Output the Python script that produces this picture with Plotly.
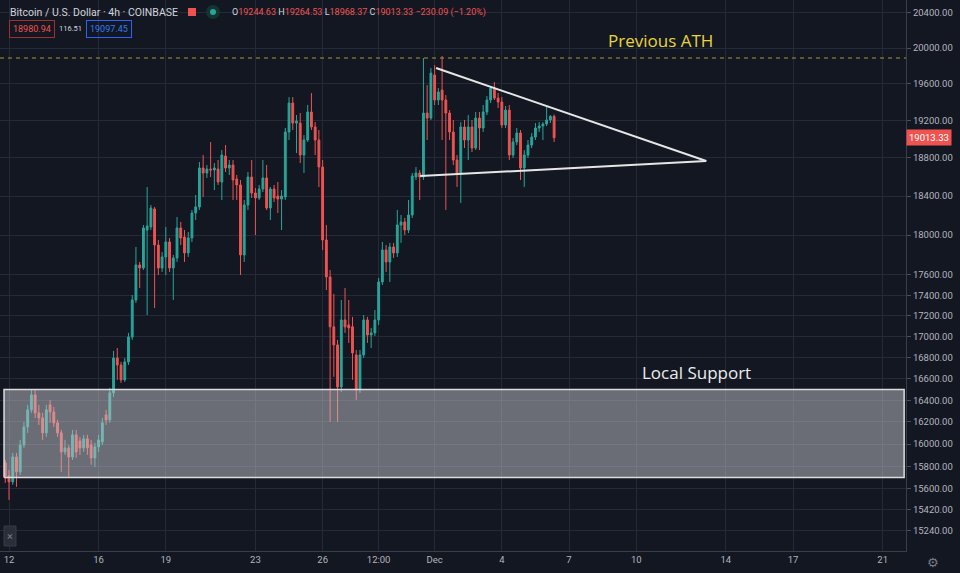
import pandas as pd
import plotly.graph_objects as go
import math

# ---------------- data (BTC/USD 4h, Coinbase) ----------------
start_time = "2020-11-11 20:00"
opens = [15831, 15715, 15662, 15884, 15751, 15992, 16155, 16311, 16449, 16283,
         16237, 16101, 16357, 16292, 16192, 16101, 15929, 15965, 15884, 16083,
         16028, 15965, 16047, 15992, 15875, 15974, 16019, 16265, 16219, 16468,
         16795, 16729, 16589, 16758, 16995, 17353, 17699, 17669, 18051, 18082,
         18266, 17899, 17669, 17779, 17930, 17669, 17769, 18072, 17980, 17819,
         17970, 18225, 18287, 18693, 18640, 18682, 18672, 18682, 18546, 18819,
         18693, 18724, 18577, 18515, 17799, 18307, 18598, 18431, 18380, 18473,
         18588, 18276, 18473, 18400, 18369, 18390, 19076, 19390, 19172, 19172,
         18830, 18990, 19292, 19130, 18990, 18703, 17950, 17580, 17092, 16919,
         16523, 17159, 17111, 17092, 16824, 16495, 16824, 17159, 17014, 17034,
         17159, 17530, 17849, 17729, 17879, 17819, 18102, 18133, 18051, 18204,
         18598, 18640, 18598, 19281, 19226, 19698, 19423, 19532, 19423, 19281,
         19076, 18777, 18640, 19130, 18990, 19130, 18904, 19226, 19119, 19292,
         19423, 19554, 19444, 19401, 19151, 19313, 18830, 18969, 19065, 18693,
         18830, 18936, 19022, 19119, 19140, 19162, 19205, 19244.63]
highs = [15858, 15769, 15920, 15920, 16037, 16201, 16357, 16495, 16495, 16357,
         16283, 16357, 16403, 16338, 16219, 16128, 16037, 15992, 16128, 16128,
         16065, 16083, 16083, 16037, 16010, 16083, 16237, 16311, 16514, 16862,
         16890, 16758, 16795, 17034, 17402, 17879, 17729, 18102, 18494, 18307,
         18287, 17950, 17829, 18082, 17970, 17799, 18184, 18133, 18051, 18030,
         18256, 18411, 18756, 18830, 18724, 18969, 18745, 18777, 18883, 18936,
         18777, 18777, 18619, 18567, 18359, 18651, 18777, 18483, 18515, 18777,
         18724, 18494, 18515, 18546, 18462, 19119, 19455, 19455, 19259, 19281,
         19043, 19368, 19499, 19183, 19097, 18777, 18102, 17649, 17412, 16967,
         17353, 17471, 17353, 17188, 16871, 16871, 17207, 17188, 17082, 17256,
         17570, 17930, 17899, 17920, 17920, 18256, 18204, 18174, 18359, 18640,
         18703, 18672, 19888, 19587, 19776, 19809, 19554, 19910, 19477, 19313,
         19205, 18830, 19183, 19205, 19259, 19205, 19292, 19292, 19368, 19466,
         19576, 19620, 19499, 19455, 19357, 19368, 19011, 19119, 19097, 18883,
         18990, 19065, 19172, 19183, 19183, 19346, 19259, 19264.53]
lows = [15653, 15504, 15636, 15618, 15724, 15965, 16101, 16283, 16237, 16173,
        16037, 16065, 16192, 16155, 16065, 15751, 15902, 15707, 15858, 15875,
        15902, 15929, 15902, 15813, 15795, 15929, 15992, 16173, 16192, 16431,
        16589, 16561, 16570, 16729, 16967, 17324, 17471, 17649, 17207, 18051,
        17275, 17599, 17629, 17599, 17629, 17353, 17729, 17899, 17729, 17779,
        17930, 18153, 18256, 18390, 18588, 18598, 18462, 18515, 18359, 18651,
        18619, 18359, 18359, 17599, 17729, 18256, 18380, 18000, 18359, 18441,
        18256, 18153, 18338, 18225, 18051, 18359, 18990, 19097, 18851, 18745,
        18640, 18969, 19097, 18830, 18494, 17849, 17451, 16201, 16617, 16201,
        16477, 17034, 16938, 16589, 16403, 16468, 16795, 16938, 16890, 17005,
        17111, 17500, 17629, 17530, 17769, 17779, 17920, 18000, 18020, 18174,
        18567, 18359, 18567, 18990, 19205, 19368, 19368, 18990, 18256, 18990,
        18724, 18494, 18328, 18904, 18777, 18862, 18883, 18883, 19076, 19259,
        19390, 19423, 19335, 19119, 19119, 18777, 18798, 18936, 18567, 18494,
        18798, 18904, 18990, 19076, 18990, 19140, 19172, 18968.37]
closes = [15715, 15662, 15884, 15751, 15992, 16155, 16311, 16449, 16283, 16237,
          16101, 16311, 16292, 16192, 16101, 15929, 15965, 15884, 16083, 15929,
          15965, 16047, 15965, 15875, 15974, 16037, 16192, 16219, 16468, 16795,
          16729, 16589, 16758, 16995, 17353, 17699, 17669, 18072, 18092, 18276,
          17899, 17669, 17779, 17930, 17669, 17769, 18072, 17970, 17819, 17970,
          18225, 18287, 18693, 18640, 18682, 18672, 18693, 18546, 18830, 18693,
          18724, 18567, 18515, 17799, 18307, 18598, 18431, 18380, 18473, 18588,
          18276, 18473, 18380, 18369, 18400, 19076, 19390, 19172, 19194, 18830,
          18990, 19292, 19130, 18990, 18703, 17950, 17580, 17092, 16919, 16523,
          17159, 17092, 17082, 16843, 16495, 16824, 17159, 17014, 17034, 17159,
          17530, 17849, 17729, 17879, 17819, 18102, 18133, 18051, 18204, 18609,
          18640, 18598, 19281, 19226, 19720, 19423, 19510, 19423, 19281, 19076,
          18777, 18640, 19130, 18990, 19130, 18904, 19226, 19119, 19292, 19423,
          19554, 19444, 19401, 19151, 19313, 18830, 18969, 19065, 18693, 18830,
          18936, 19022, 19119, 19140, 19162, 19205, 19244.63, 19013.33]

# annotation levels / drawings (prices and times)
ath_price = 19888
ath_span = ["2020-11-11 14:21", "2020-12-22 01:00"]
support_low, support_high = 15700, 16500
support_span = ["2020-11-11 18:40", "2020-12-21 23:00"]
tri_upper = (["2020-12-01 01:30", "2020-12-13 03:00"], [19776, 18766])
tri_lower = (["2020-11-30 08:30", "2020-12-13 03:00"], [18609, 18766])
last_price = 19013.33

x_tick_vals = ["2020-11-12", "2020-11-16", "2020-11-19", "2020-11-23", "2020-11-26",
               "2020-11-28 12:00", "2020-12-01", "2020-12-04", "2020-12-07",
               "2020-12-10", "2020-12-14", "2020-12-17", "2020-12-21"]
x_tick_text = ["12", "16", "19", "23", "26", "12:00", "Dec", "4", "7", "10", "14", "17", "21"]
y_tick_vals = [15240, 15420, 15600, 15800, 16000, 16200, 16400, 16600, 16800, 17000,
               17200, 17400, 17600, 18000, 18400, 18800, 19200, 19600, 20000, 20400]

times = pd.date_range(start_time, periods=len(closes), freq="4h")

# ---------------- styling ----------------
BG = "#131722"
GRID = "#262a36"
TXT = "#b2b5be"
UP = "#26a69a"
DN = "#ef5350"
W, H = 960, 573
ML, MR, MT, MB = 0, 54, 0, 22
PW, PH = W - ML - MR, H - MT - MB


def px(xp):
    return xp / PW


def py(yp):
    return 1 - yp / PH


fig = go.Figure()
fig.add_trace(go.Candlestick(
    x=times, open=opens, high=highs, low=lows, close=closes,
    increasing=dict(line=dict(color=UP, width=1), fillcolor=UP),
    decreasing=dict(line=dict(color=DN, width=1), fillcolor=DN),
    whiskerwidth=0, showlegend=False, hoverinfo="skip",
))

# local support zone (drawn above candles)
fig.add_trace(go.Scatter(
    x=[support_span[0], support_span[1], support_span[1], support_span[0], support_span[0]],
    y=[support_low, support_low, support_high, support_high, support_low],
    mode="lines", fill="toself", fillcolor="rgba(200,200,206,0.49)",
    line=dict(color="#dcdcdc", width=1.5), showlegend=False, hoverinfo="skip"))

# previous ATH level
fig.add_trace(go.Scatter(x=ath_span, y=[ath_price, ath_price], mode="lines",
                         line=dict(color="#a8992c", width=1, dash="4px,4px"),
                         showlegend=False, hoverinfo="skip"))

# triangle
fig.add_trace(go.Scatter(x=tri_upper[0], y=tri_upper[1], mode="lines",
                         line=dict(color="#e6e6e6", width=2), showlegend=False, hoverinfo="skip"))
fig.add_trace(go.Scatter(x=tri_lower[0], y=tri_lower[1], mode="lines",
                         line=dict(color="#e6e6e6", width=2), showlegend=False, hoverinfo="skip"))

shapes = [
    # header icons
    dict(type="rect", xref="paper", yref="paper", x0=px(188), x1=px(196), y0=py(16), y1=py(8),
         fillcolor="#ef5350", line=dict(width=0)),
    dict(type="circle", xref="paper", yref="paper", x0=px(206), x1=px(220), y0=py(19), y1=py(5),
         fillcolor="#14352f", line=dict(width=0)),
    dict(type="circle", xref="paper", yref="paper", x0=px(210), x1=px(216), y0=py(15), y1=py(9),
         fillcolor="#26a69a", line=dict(width=0)),
    # bottom-left small button
    dict(type="rect", xref="paper", yref="paper", x0=px(4), x1=px(16), y0=py(546), y1=py(526),
         fillcolor="#2a2e39", line=dict(color="#363a45", width=1)),
]


def note(text, xp, yp, xanchor="center", **kw):
    return dict(text=text, xref="paper", yref="paper", x=px(xp), y=py(yp),
                xanchor=xanchor, yanchor="middle", showarrow=False, **kw)


annotations = [
    note("Previous ATH", 660, 40, font=dict(family="Open Sans", size=17, color="#e7d53b")),
    note("Local Support", 696, 372, font=dict(family="Open Sans", size=17, color="#ececec")),
    note("Bitcoin / U.S. Dollar · 4h · COINBASE", 8, 12, xanchor="left",
         font=dict(family="Roboto", size=10.5, color="#d1d4dc")),
    note(("O<span style='color:#ef5350'>19244.63</span> "
          "H<span style='color:#ef5350'>19264.53</span> "
          "L<span style='color:#ef5350'>18968.37</span> "
          "C<span style='color:#ef5350'>19013.33</span> "
          "<span style='color:#ef5350'>−230.09 (−1.20%)</span>"), 230, 12, xanchor="left",
         font=dict(family="Roboto", size=9, color="#d1d4dc")),
    note("18980.94", 9, 29, xanchor="left", bordercolor="#a0302e", borderwidth=1, borderpad=3,
         font=dict(family="Roboto", size=9, color="#ef5350")),
    note("116.51", 70, 29, font=dict(family="Roboto", size=7.5, color="#d1d4dc")),
    note("19097.45", 86, 29, xanchor="left", bordercolor="#2962ff", borderwidth=1, borderpad=3,
         font=dict(family="Roboto", size=9, color="#2f7bf5")),
    note("×", 10, 536, font=dict(family="Roboto", size=11, color="#787b86")),
    note("⚙", 933, 562, font=dict(family="DejaVu Sans", size=13, color="#787b86")),
    dict(text=f"{last_price:.2f}", xref="paper", yref="y", x=1.0, y=math.log10(last_price),
         xanchor="left", yanchor="middle", showarrow=False, bgcolor="#ef5350", borderpad=2,
         font=dict(family="Roboto", size=9.5, color="#ffffff")),
]

fig.update_layout(
    width=W, height=H,
    margin=dict(l=ML, r=MR, t=MT, b=MB, autoexpand=False),
    paper_bgcolor=BG, plot_bgcolor=BG,
    shapes=shapes, annotations=annotations,
    showlegend=False,
    xaxis=dict(
        type="date", range=["2020-11-11 14:21", "2020-12-22 01:00"],
        rangeslider=dict(visible=False), automargin=False,
        tickvals=x_tick_vals, ticktext=x_tick_text,
        showgrid=True, gridcolor=GRID, gridwidth=1,
        showline=True, linecolor="#3a3e4a", linewidth=1,
        ticks="", tickfont=dict(family="Roboto", size=9.5, color=TXT),
        zeroline=False, fixedrange=True,
    ),
    yaxis=dict(
        type="log", side="right", automargin=False,
        range=[math.log10(15064), math.log10(20549)],
        tickvals=y_tick_vals, ticktext=[f"{v:.2f}" for v in y_tick_vals],
        showgrid=True, gridcolor=GRID, gridwidth=1,
        showline=True, linecolor="#3a3e4a", linewidth=1,
        ticks="outside", ticklen=4, tickcolor="#4a4e5a",
        tickfont=dict(family="Roboto", size=9.5, color=TXT),
        zeroline=False, fixedrange=True,
    ),
)

fig.write_html(
    "out.html",
    config={"displayModeBar": False},
    post_script="document.body.style.margin='0';document.body.style.background='#131722';",
)
